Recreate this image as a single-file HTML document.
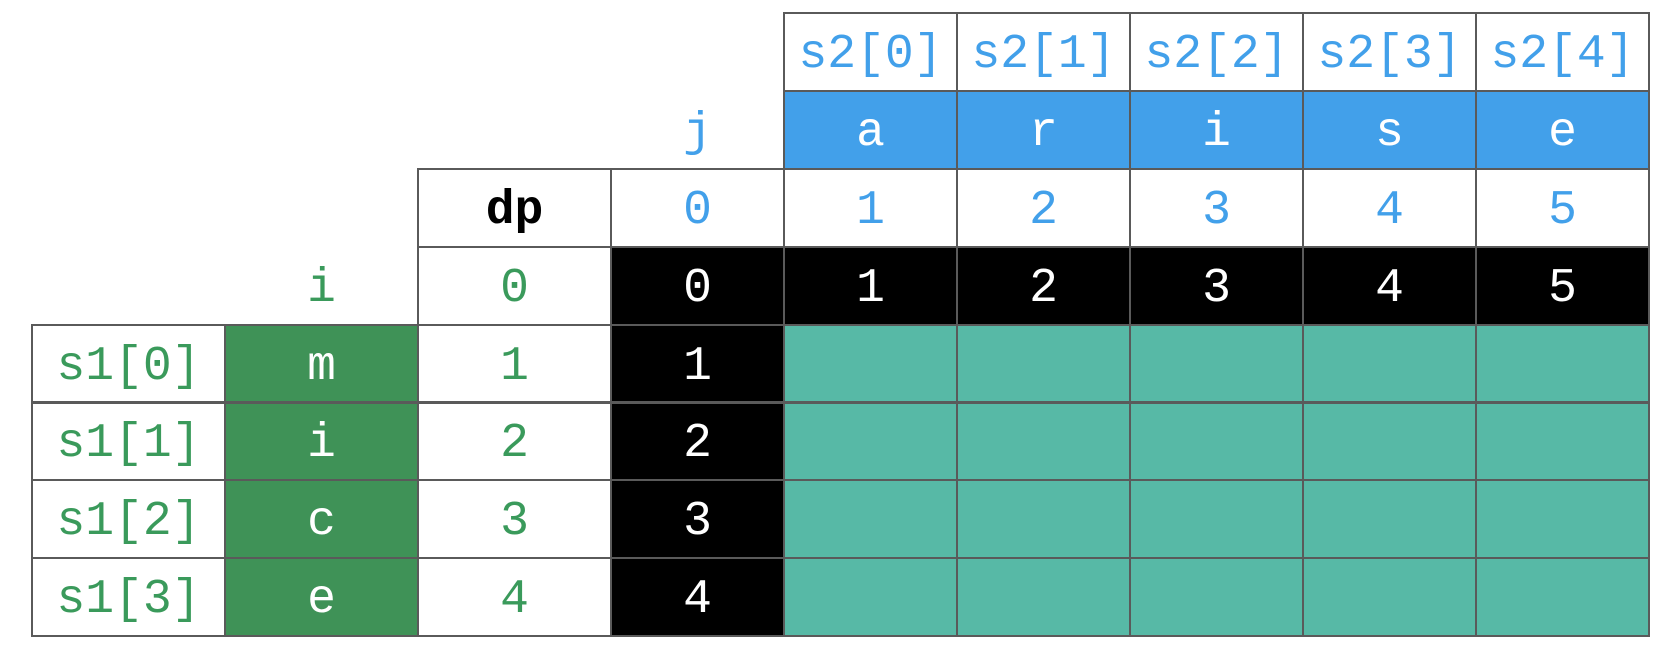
<!DOCTYPE html>
<html><head><meta charset="utf-8">
<style>
html,body{margin:0;padding:0;background:#fff;width:1662px;height:654px;overflow:hidden}
#grid{position:relative;width:1662px;height:654px}
.c{position:absolute;box-sizing:border-box;display:flex;align-items:center;justify-content:center;font-family:"Liberation Mono",monospace;font-size:48px;padding-top:6px}
.b{border:2px solid #5a5a5a}
</style></head><body>
<div id="grid"></div>
<script>
const s2Labels=["s2[0]","s2[1]","s2[2]","s2[3]","s2[4]"];
const s2Chars=["a","r","i","s","e"];
const jIndex=["0","1","2","3","4","5"];
const row0Vals=["0","1","2","3","4","5"];
const s1Labels=["s1[0]","s1[1]","s1[2]","s1[3]"];
const s1Chars=["m","i","c","e"];
const iIndex=["0","1","2","3","4"];
const col0Vals=["1","2","3","4"];

const X0=32,Y0=13,RH=77.9,CW_WIDE=193,CW=173;
function colX(c){return c<=3?X0+c*CW_WIDE:X0+3*CW_WIDE+(c-3)*CW;}
function colW(c){return c<3?CW_WIDE:CW;}
const BLUE="#42a0ea",GREEN="#3a9a5b",DKGREEN="#3f9257",TEAL="#57b9a6";
const g=document.getElementById('grid');
function cell(col,row,text,opts,name){
  const d=document.createElement('div');
  d.className='c'+(opts.border?' b':'');
  d.style.left=(colX(col)-1)+'px';
  d.style.top=(Y0+row*RH-1)+'px';
  d.style.width=(colW(col)+2)+'px';
  d.style.height=(RH+2)+'px';
  if(opts.bg)d.style.background=opts.bg;
  d.style.color=opts.color||'#000';
  if(opts.bold)d.style.fontWeight='bold';
  d.textContent=text;
  
  
  g.appendChild(d);
}
s2Labels.forEach((t,k)=>cell(4+k,0,t,{border:1,bg:'#fff',color:BLUE},'s2-index-label'));
cell(3,1,'j',{color:BLUE},'j-label');
s2Chars.forEach((t,k)=>cell(4+k,1,t,{border:1,bg:BLUE,color:'#fff'},'s2-char'));
cell(2,2,'dp',{border:1,bg:'#fff',bold:1},'dp-label');
jIndex.forEach((t,k)=>cell(3+k,2,t,{border:1,bg:'#fff',color:BLUE},'j-index'));
cell(1,3,'i',{color:GREEN},'i-label');
cell(2,3,iIndex[0],{border:1,bg:'#fff',color:GREEN},'i-index');
row0Vals.forEach((t,k)=>cell(3+k,3,t,{border:1,bg:'#000',color:'#fff'},'dp-row0-value'));
s1Labels.forEach((t,r)=>{
  cell(0,4+r,t,{border:1,bg:'#fff',color:GREEN},'s1-index-label');
  cell(1,4+r,s1Chars[r],{border:1,bg:DKGREEN,color:'#fff'},'s1-char');
  cell(2,4+r,iIndex[r+1],{border:1,bg:'#fff',color:GREEN},'i-index');
  cell(3,4+r,col0Vals[r],{border:1,bg:'#000',color:'#fff'},'dp-col0-value');
  for(let k=0;k<s2Chars.length;k++)cell(4+k,4+r,'',{border:1,bg:TEAL},'dp-empty-cell');
});
</script>
</body></html>
